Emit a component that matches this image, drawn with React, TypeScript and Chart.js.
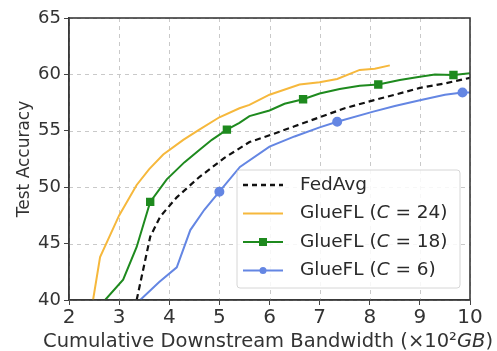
import React, { useEffect, useRef } from "react";
import { Chart, registerables } from "chart.js";

Chart.register(...registerables);

const FONT = "'DejaVu Sans', sans-serif";

// x: cumulative downstream bandwidth (x10^2 GB), y: test accuracy
const fedAvgX = [3.35, 3.62, 3.82, 4.15, 4.6, 4.75, 5.1, 5.6, 6.0, 6.5, 7.0, 7.5, 8.07, 8.5, 9.0, 9.5, 10];
const fedAvgY = [40, 45.6, 47.4, 49.1, 50.9, 51.4, 52.6, 54.0, 54.6, 55.4, 56.2, 57.0, 57.7, 58.2, 58.8, 59.2, 59.7];

const c24X = [2.48, 2.62, 3.0, 3.35, 3.6, 3.88, 4.28, 4.6, 5.0, 5.4, 5.6, 6.0, 6.6, 7.0, 7.35, 7.8, 8.1, 8.4];
const c24Y = [40, 43.8, 47.5, 50.2, 51.6, 52.9, 54.2, 55.1, 56.2, 57.0, 57.3, 58.2, 59.1, 59.3, 59.6, 60.4, 60.5, 60.8];

const c18X = [2.72, 3.08, 3.35, 3.62, 3.95, 4.3, 4.6, 4.85, 5.15, 5.4, 5.6, 6.0, 6.3, 6.67, 7.0, 7.4, 7.8, 8.17, 8.6, 9.0, 9.3, 9.67, 10];
const c18Y = [40, 41.8, 44.7, 48.7, 50.7, 52.2, 53.3, 54.2, 55.1, 55.7, 56.3, 56.8, 57.4, 57.8, 58.3, 58.7, 59.0, 59.1, 59.5, 59.8, 60.0, 59.95, 60.1];
const c18Markers = [3, 8, 13, 17, 21];

const c6X = [3.42, 3.8, 4.15, 4.42, 4.7, 5.0, 5.41, 6.0, 6.5, 7.0, 7.35, 8.07, 8.5, 9.0, 9.5, 9.85, 10];
const c6Y = [40, 41.6, 42.9, 46.2, 48.0, 49.6, 51.8, 53.6, 54.5, 55.3, 55.8, 56.7, 57.2, 57.7, 58.2, 58.4, 58.4];
const c6Markers = [5, 10, 15];

const xTicks = [2, 3, 4, 5, 6, 7, 8, 9, 10];
const yTicks = [40, 45, 50, 55, 60, 65];

const xTitleParts = [
  { t: "Cumulative Downstream Bandwidth (×10²", italic: false },
  { t: "GB", italic: true },
  { t: ")", italic: false },
];

const COLORS = {
  fed: "#111111",
  c24: "#F6B83C",
  c18: "#1E8A1E",
  c6: "#6486E3",
};

const legendItems = [
  { pre: "FedAvg", c: "", post: "", color: COLORS.fed, dash: true, marker: "" },
  { pre: "GlueFL (", c: "C", post: " = 24)", color: COLORS.c24, dash: false, marker: "" },
  { pre: "GlueFL (", c: "C", post: " = 18)", color: COLORS.c18, dash: false, marker: "rect" },
  { pre: "GlueFL (", c: "C", post: " = 6)", color: COLORS.c6, dash: false, marker: "circle" },
];

function pts(xs: number[], ys: number[]) {
  return xs.map((x, i) => ({ x, y: ys[i] }));
}

function radii(n: number, idx: number[], r: number) {
  const a: number[] = [];
  for (let i = 0; i < n; i++) a.push(idx.includes(i) ? r : 0);
  return a;
}

const framePlugin = {
  id: "frame",
  beforeDatasetsDraw(chart: any) {
    const { ctx, chartArea: a, scales } = chart;
    ctx.save();
    ctx.strokeStyle = "#c9c9c9";
    ctx.lineWidth = 1;
    ctx.setLineDash([4, 4]);
    xTicks.forEach((v) => {
      const px = Math.round(scales.x.getPixelForValue(v)) + 0.5;
      ctx.beginPath();
      ctx.moveTo(px, a.top);
      ctx.lineTo(px, a.bottom);
      ctx.stroke();
    });
    yTicks.forEach((v) => {
      const py = Math.round(scales.y.getPixelForValue(v)) + 0.5;
      ctx.beginPath();
      ctx.moveTo(a.left, py);
      ctx.lineTo(a.right, py);
      ctx.stroke();
    });
    ctx.restore();
  },
  afterDatasetsDraw(chart: any) {
    const { ctx, chartArea: a } = chart;
    ctx.save();
    ctx.strokeStyle = "#3a3a3a";
    ctx.lineWidth = 1.6;
    ctx.strokeRect(a.left, a.top, a.right - a.left, a.bottom - a.top);
    ctx.restore();
  },
  afterDraw(chart: any) {
    const { ctx, chartArea: a } = chart;
    // x axis title
    ctx.save();
    ctx.fillStyle = "#333";
    ctx.textBaseline = "alphabetic";
    const tfs = 19.5;
    let total = 0;
    xTitleParts.forEach((p) => {
      ctx.font = `${p.italic ? "italic " : ""}${tfs}px ${FONT}`;
      total += ctx.measureText(p.t).width;
    });
    let tx = 268 - total / 2;
    xTitleParts.forEach((p) => {
      ctx.font = `${p.italic ? "italic " : ""}${tfs}px ${FONT}`;
      ctx.fillText(p.t, tx, 347);
      tx += ctx.measureText(p.t).width;
    });
    ctx.restore();

    const bx = a.left + 168;
    const by = a.top + 152;
    const bw = 223;
    const bh = 118;
    ctx.save();
    ctx.fillStyle = "rgba(255,255,255,0.85)";
    ctx.strokeStyle = "#d6d6d6";
    ctx.lineWidth = 1;
    ctx.beginPath();
    const r = 3;
    ctx.moveTo(bx + r, by);
    ctx.arcTo(bx + bw, by, bx + bw, by + bh, r);
    ctx.arcTo(bx + bw, by + bh, bx, by + bh, r);
    ctx.arcTo(bx, by + bh, bx, by, r);
    ctx.arcTo(bx, by, bx + bw, by, r);
    ctx.closePath();
    ctx.fill();
    ctx.stroke();

    const fs = 18.5;
    legendItems.forEach((it, i) => {
      const y = by + 15 + i * 28.5;
      const lx0 = bx + 6;
      const lx1 = bx + 46;
      ctx.strokeStyle = it.color;
      ctx.lineWidth = it.dash ? 2.4 : 2;
      ctx.setLineDash(it.dash ? [5, 4] : []);
      ctx.beginPath();
      ctx.moveTo(lx0, y);
      ctx.lineTo(lx1, y);
      ctx.stroke();
      ctx.setLineDash([]);
      ctx.fillStyle = it.color;
      const mx = (lx0 + lx1) / 2;
      if (it.marker === "rect") ctx.fillRect(mx - 4, y - 4, 8, 8);
      if (it.marker === "circle") {
        ctx.beginPath();
        ctx.arc(mx, y, 3.5, 0, Math.PI * 2);
        ctx.fill();
      }
      ctx.fillStyle = "#2a2a2a";
      ctx.textBaseline = "middle";
      let lx = bx + 63;
      ctx.font = `${fs}px ${FONT}`;
      ctx.fillText(it.pre, lx, y);
      lx += ctx.measureText(it.pre).width;
      if (it.c) {
        ctx.font = `italic ${fs}px ${FONT}`;
        ctx.fillText(it.c, lx, y);
        lx += ctx.measureText(it.c).width;
        ctx.font = `${fs}px ${FONT}`;
        ctx.fillText(it.post, lx, y);
      }
    });
    ctx.restore();
  },
};

export default function App() {
  const ref = useRef<HTMLCanvasElement | null>(null);
  useEffect(() => {
    if (!ref.current) return;
    const line = (label: string, xs: number[], ys: number[], color: string, extra: any) => ({
      label,
      data: pts(xs, ys),
      borderColor: color,
      backgroundColor: color,
      borderWidth: 2,
      pointRadius: 0,
      tension: 0,
      ...extra,
    });
    const gridCommon = {
      drawOnChartArea: false,
      color: "#444",
      tickLength: 5,
      tickColor: "#444",
      lineWidth: 1,
    } as any;
    const borderCommon = { display: true, color: "#3a3a3a", width: 1.6 } as any;
    const chart = new Chart(ref.current, {
      type: "line",
      data: {
        datasets: [
          line("GlueFL (C = 24)", c24X, c24Y, COLORS.c24, {}),
          line("GlueFL (C = 18)", c18X, c18Y, COLORS.c18, {
            pointRadius: radii(c18X.length, c18Markers, 4.5),
            pointStyle: "rect",
          }),
          line("GlueFL (C = 6)", c6X, c6Y, COLORS.c6, {
            pointRadius: radii(c6X.length, c6Markers, 4),
            pointStyle: "circle",
          }),
          line("FedAvg", fedAvgX, fedAvgY, COLORS.fed, { borderDash: [6, 4], borderWidth: 2.2 }),
        ],
      },
      options: {
        animation: false,
        responsive: true,
        maintainAspectRatio: false,
        layout: { padding: { top: 18, right: 27, left: 0, bottom: 0 } },
        plugins: { legend: { display: false }, tooltip: { enabled: false } },
        scales: {
          x: {
            type: "linear",
            min: 2,
            max: 10,
            afterFit: (s: any) => { s.height = 51; },
            afterBuildTicks: (s: any) => { s.ticks = xTicks.map((v) => ({ value: v })); },
            ticks: { color: "#333", font: { family: FONT, size: 20 }, padding: 1, maxRotation: 0 },
            grid: gridCommon,
            border: borderCommon,
            title: { display: false },
          },
          y: {
            type: "linear",
            min: 40,
            max: 65,
            afterFit: (s: any) => { s.width = 69; },
            afterBuildTicks: (s: any) => { s.ticks = yTicks.map((v) => ({ value: v })); },
            ticks: { color: "#333", font: { family: FONT, size: 18 }, padding: 3 },
            grid: gridCommon,
            border: borderCommon,
            title: {
              display: true,
              text: "Test Accuracy",
              color: "#333",
              font: { family: FONT, size: 17 },
              padding: { top: 14, bottom: 0 },
            },
          },
        },
      },
      plugins: [framePlugin],
    });
    return () => chart.destroy();
  }, []);
  return (
    <div style={{ position: "fixed", left: 0, top: 0, width: 497, height: 351, background: "#fff" }}>
      <canvas ref={ref} />
    </div>
  );
}
